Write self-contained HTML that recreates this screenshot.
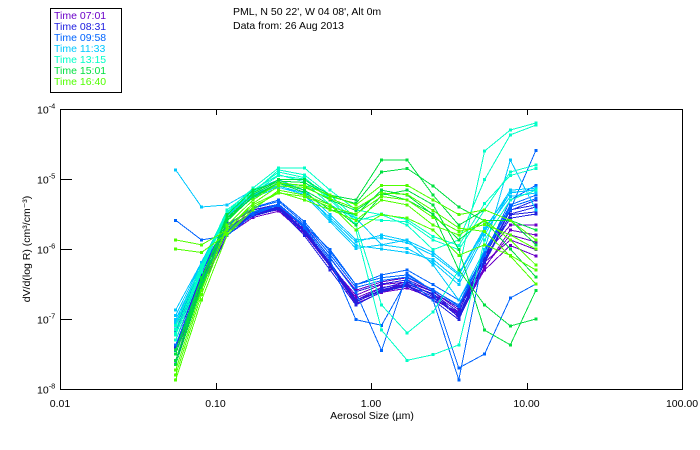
<!DOCTYPE html>
<html><head><meta charset="utf-8"><style>
body{margin:0;background:#fff;}
svg{display:block;font-family:"Liberation Sans",sans-serif;}
</style></head><body>
<svg id="chart" width="700" height="450" viewBox="0 0 700 450">
  <rect x="50.5" y="8.5" width="71" height="84" fill="#fff" stroke="#000" stroke-width="1"/>
  <g id="legend" font-size="10.5"></g>
  <text x="233" y="15" font-size="10.5">PML, N 50 22', W 04 08', Alt 0m</text>
  <text x="233" y="29" font-size="10.5">Data from: 26 Aug 2013</text>
  <g id="series" shape-rendering="crispEdges"></g>
  <rect x="60.5" y="109.5" width="622" height="280" fill="none" stroke="#000" stroke-width="1"/>
  <g id="axes" font-size="10.5"></g>
  <text x="372" y="419" font-size="10.5" text-anchor="middle">Aerosol Size (µm)</text>
  <text transform="translate(30,249) rotate(-90)" font-size="10.5" text-anchor="middle">dV/d(log R)  (cm³/cm⁻³)</text>
</svg>
<script>
const sizes = [0.0555,0.0813,0.119,0.174,0.255,0.373,0.546,0.8,1.17,1.71,2.51,3.67,5.38,7.87,11.5];
const xTicks = [0.01,0.1,1,10,100];
const xTickLabels = ["0.01","0.10","1.00","10.00","100.00"];
const yTickExps = [-4,-5,-6,-7,-8];
const times = ["07:01","08:31","09:58","11:33","13:15","15:01","16:40"];
const timeColors = ["#6a00c8","#2020e0","#0064ff","#00c8ff","#00ffc8","#00e040","#50ff00"];
const seriesTime = [0,0,0,0,0,1,1,1,1,1,2,2,2,2,2,3,3,3,3,3,4,4,4,4,4,5,5,5,5,5,6,6,6,6,6];
// log10 of dV/dlogR
const s0 = [-7.16,-6.33,-5.70,-5.47,-5.37,-5.66,-6.13,-6.59,-6.47,-6.41,-6.59,-6.99,-6.27,-5.73,-5.80];
const s1 = [-7.37,-6.44,-5.76,-5.51,-5.44,-5.76,-6.19,-6.73,-6.59,-6.51,-6.73,-6.90,-6.09,-5.66,-5.66];
const s2 = [-7.23,-6.30,-5.66,-5.44,-5.39,-5.70,-6.23,-6.66,-6.51,-6.47,-6.61,-6.87,-6.19,-5.87,-6.01];
const p4 = [-7.30,-6.40,-5.74,-5.50,-5.42,-5.72,-6.20,-6.70,-6.55,-6.50,-6.65,-6.95,-6.25,-5.80,-5.90];
const p5 = [-7.50,-6.50,-5.80,-5.55,-5.46,-5.78,-6.25,-6.78,-6.62,-6.56,-6.70,-6.92,-6.30,-5.95,-6.10];
const s3 = [-7.30,-6.37,-5.70,-5.49,-5.40,-5.73,-6.19,-6.73,-6.56,-6.47,-6.66,-6.94,-6.16,-5.51,-5.47];
const s4 = [-7.44,-6.47,-5.76,-5.53,-5.43,-5.81,-6.30,-6.80,-6.61,-6.53,-6.73,-7.01,-6.19,-5.44,-5.37];
const s5 = [-7.16,-6.27,-5.64,-5.44,-5.36,-5.67,-6.13,-6.61,-6.50,-6.44,-6.61,-6.84,-6.13,-5.56,-5.50];
const b4 = [-7.40,-6.45,-5.75,-5.50,-5.41,-5.74,-6.22,-6.75,-6.60,-6.52,-6.68,-6.97,-6.20,-5.50,-5.40];
const b5 = [-7.60,-6.55,-5.80,-5.52,-5.42,-5.76,-6.24,-6.76,-6.58,-6.50,-6.64,-6.90,-6.10,-5.45,-5.30];
const s6 = [-7.23,-6.33,-5.67,-5.41,-5.30,-5.61,-6.04,-6.51,-6.41,-6.37,-6.59,-6.80,-6.04,-5.37,-5.23];
const s7 = [-7.37,-6.41,-5.73,-5.47,-5.36,-5.70,-6.16,-7.01,-7.09,-6.44,-6.73,-7.87,-6.01,-5.44,-4.59];
const s8 = [-5.59,-5.87,-5.81,-5.51,-5.37,-5.66,-6.01,-6.51,-6.37,-6.30,-6.51,-6.73,-6.09,-5.30,-5.09];
const c4 = [-7.10,-6.28,-5.65,-5.42,-5.32,-5.64,-6.08,-6.55,-6.45,-6.40,-6.58,-6.82,-6.08,-5.40,-5.28];
const c5 = [-7.45,-6.46,-5.75,-5.48,-5.38,-5.68,-6.12,-6.62,-7.45,-6.35,-6.60,-7.70,-7.50,-6.70,-6.50];
const s9 = [-7.01,-6.23,-5.51,-5.23,-5.06,-5.16,-5.51,-5.87,-5.84,-5.91,-6.09,-6.37,-5.73,-5.16,-5.13];
const s10 = [-6.87,-6.19,-5.47,-5.24,-5.09,-5.23,-5.61,-5.99,-5.94,-5.99,-6.19,-6.51,-5.80,-5.19,-5.16];
const s11 = [-4.87,-5.40,-5.37,-5.16,-5.01,-5.16,-5.37,-5.56,-5.94,-5.87,-6.23,-6.73,-6.01,-4.73,-5.44];
const d4 = [-7.05,-6.25,-5.52,-5.27,-5.12,-5.22,-5.55,-5.90,-5.80,-5.88,-6.05,-6.35,-5.70,-5.20,-5.15];
const d5 = [-6.95,-6.20,-5.50,-5.25,-5.10,-5.20,-5.58,-5.95,-6.00,-6.05,-6.15,-6.45,-5.75,-5.25,-5.20];
const s12 = [-7.23,-6.30,-5.51,-5.19,-4.87,-4.94,-5.23,-5.56,-5.59,-5.61,-5.87,-6.01,-5.44,-4.90,-4.80];
const s13 = [-7.09,-6.23,-5.44,-5.16,-4.94,-5.04,-5.37,-5.73,-7.16,-7.59,-7.51,-7.37,-5.87,-5.30,-5.16];
const s14 = [-7.30,-6.33,-5.47,-5.13,-4.84,-4.84,-5.16,-5.44,-5.51,-5.66,-6.01,-5.87,-5.01,-4.37,-4.23];
const e4 = [-7.15,-6.27,-5.48,-5.17,-4.90,-4.98,-5.28,-5.60,-5.50,-5.58,-5.82,-5.95,-5.35,-4.95,-4.85];
const e5 = [-7.20,-6.30,-5.50,-5.20,-4.95,-5.00,-5.30,-5.65,-6.80,-7.20,-6.90,-6.30,-4.60,-4.30,-4.20];
const s15 = [-7.59,-6.51,-5.59,-5.20,-5.01,-5.01,-5.23,-5.30,-4.73,-4.73,-5.23,-5.66,-5.44,-5.59,-5.94];
const s16 = [-7.59,-6.44,-5.51,-5.16,-5.04,-5.16,-5.37,-5.66,-5.23,-5.16,-5.37,-6.01,-7.16,-7.37,-6.59];
const s17 = [-7.44,-6.41,-5.56,-5.27,-5.06,-5.19,-5.44,-5.51,-5.16,-5.23,-5.51,-5.87,-5.59,-5.59,-5.73];
const f4 = [-7.50,-6.45,-5.55,-5.22,-5.03,-5.05,-5.25,-5.35,-4.90,-4.85,-5.10,-5.40,-5.60,-6.00,-6.40];
const f5 = [-7.65,-6.55,-5.60,-5.25,-5.05,-5.10,-5.30,-5.45,-5.20,-5.30,-5.50,-6.30,-6.80,-7.10,-7.00];
const s18 = [-7.73,-6.59,-5.66,-5.30,-5.06,-5.09,-5.23,-5.37,-5.09,-5.09,-5.30,-5.51,-5.44,-5.59,-5.87];
const s19 = [-5.87,-5.94,-5.73,-5.37,-5.19,-5.30,-5.44,-5.59,-5.30,-5.37,-5.66,-5.80,-5.59,-5.87,-6.23];
const s20 = [-7.87,-6.73,-5.80,-5.44,-5.16,-5.23,-5.37,-5.73,-5.51,-5.56,-5.73,-6.09,-5.94,-6.09,-6.30];
const g4 = [-7.80,-6.65,-5.70,-5.35,-5.10,-5.12,-5.28,-5.42,-5.20,-5.22,-5.45,-5.70,-5.75,-6.10,-6.50];
const g5 = [-6.00,-6.05,-5.78,-5.40,-5.20,-5.25,-5.40,-5.50,-5.25,-5.30,-5.55,-5.75,-5.65,-5.80,-6.00];
const seriesList = [s0,s1,s2,p4,p5,s3,s4,s5,b4,b5,s6,s7,s8,c4,c5,s9,s10,s11,d4,d5,s12,s13,s14,e4,e5,s15,s16,s17,f4,f5,s18,s19,s20,g4,g5];

const NS = "http://www.w3.org/2000/svg";
const X0 = 60, X1 = 682, Y0 = 109, Y1 = 389;
function xScale(v){ return X0 + (Math.log10(v) + 2) / 4 * (X1 - X0); }
function yScale(lg){ return Y0 + (-4 - lg) / 4 * (Y1 - Y0); }
function mk(tag, attrs){ const e = document.createElementNS(NS, tag); for (const k in attrs) e.setAttribute(k, attrs[k]); return e; }

const legend = document.getElementById("legend");
times.forEach((t, i) => {
  const tx = mk("text", {x: 54, y: 19 + i * 11, fill: timeColors[i]});
  tx.textContent = "Time " + t;
  
  
  legend.appendChild(tx);
});

const sg = document.getElementById("series");
seriesList.forEach((vals, si) => {
  const col = timeColors[seriesTime[si]];
  const g = mk("g", {});
  
  
  const pts = vals.map((v, i) => xScale(sizes[i]).toFixed(1) + "," + yScale(v).toFixed(1)).join(" ");
  const pl = mk("polyline", {points: pts, fill: "none", stroke: col, "stroke-width": 1});
  
  
  g.appendChild(pl);
  vals.forEach((v, i) => {
    const r = mk("rect", {x: xScale(sizes[i]) - 1.5, y: yScale(v) - 1.5, width: 3, height: 3, fill: col});
    
    
    g.appendChild(r);
  });
  sg.appendChild(g);
});

const ax = document.getElementById("axes");
xTicks.forEach((v, i) => {
  const x = Math.round(xScale(v)) + 0.5;
  if (i > 0 && i < xTicks.length - 1) {
    const t1 = mk("line", {x1: x, x2: x, y1: Y1, y2: Y1 - 6, stroke: "#000"});
    
    
    ax.appendChild(t1);
    const t2 = mk("line", {x1: x, x2: x, y1: Y0, y2: Y0 + 6, stroke: "#000"});
    
    
    ax.appendChild(t2);
  }
  const lb = mk("text", {x: xScale(v), y: 407, "text-anchor": "middle"});
  lb.textContent = xTickLabels[i];
  
  
  ax.appendChild(lb);
});
yTickExps.forEach((e, i) => {
  const y = Math.round(yScale(e)) + 0.5;
  if (i > 0 && i < yTickExps.length - 1) {
    const t = mk("line", {x1: X0, x2: X0 + 12, y1: y, y2: y, stroke: "#000"});
    
    
    ax.appendChild(t);
  }
  const lb = mk("text", {x: 37, y: y + 4});
  lb.textContent = "10";
  
  
  const sup = mk("tspan", {dy: -5, "font-size": 7.5});
  sup.textContent = String(e);
  lb.appendChild(sup);
  ax.appendChild(lb);
});
</script>
</body></html>
